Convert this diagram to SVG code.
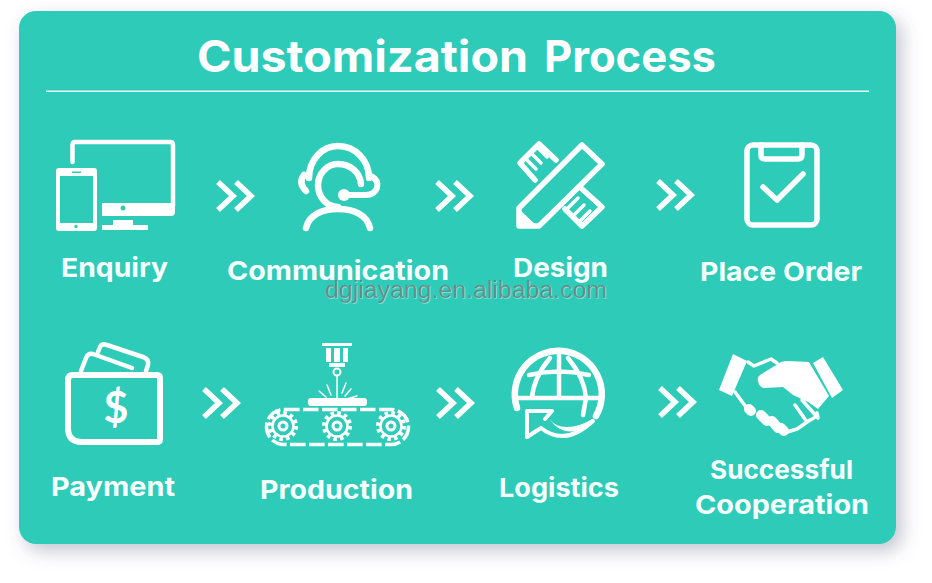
<svg xmlns="http://www.w3.org/2000/svg" width="932" height="583" viewBox="0 0 932 583">
<style>
.lb{font-family:Inter,"Liberation Sans",sans-serif;font-weight:700;font-size:26px;fill:#f7fffd}
.s{fill:none;stroke:#fff;stroke-width:5.500;stroke-linejoin:round;stroke-linecap:round}
.t{fill:none;stroke:#fff;stroke-width:3.500;stroke-linejoin:round;stroke-linecap:round}
.f{fill:#fff}
.ch{fill:none;stroke:#fff;stroke-width:5.500;stroke-linejoin:miter;stroke-linecap:butt}
.gear{fill:none;stroke:#fff;stroke-width:2.500}
.teeth{fill:none;stroke:#fff;stroke-width:4;stroke-dasharray:3.500 3.300}
</style>
<defs>
<filter id="sh" x="-5%" y="-5%" width="112%" height="115%"><feDropShadow dx="6" dy="7" stdDeviation="9" flood-color="#5a5a80" flood-opacity="0.35"/></filter>
<filter id="wm" x="-5%" y="-20%" width="110%" height="140%"><feDropShadow dx="0.7" dy="0.7" stdDeviation="0.2" flood-color="#e8fffa" flood-opacity="0.6"/></filter>
<path id="chev" d="M0 -14L15 0L0 14M18 -14L33 0L18 14"/>
<g id="gr"><circle r="13" class="teeth"/><circle r="10.500" class="gear"/><circle r="4" class="gear" style="stroke-width:3"/></g>
</defs>
<g id="panel">
<rect x="19" y="11" width="877" height="533" rx="17" fill="#2fcbb9" filter="url(#sh)"/>
<text y="72" font-family="Inter,'Liberation Sans',sans-serif" font-weight="700" font-size="44" fill="#fff"><tspan x="197" textLength="331" lengthAdjust="spacingAndGlyphs">Customization</tspan> <tspan x="544" textLength="172" lengthAdjust="spacingAndGlyphs">Process</tspan></text>
<rect x="46" y="90.500" width="823" height="1.500" fill="#e9fbf8"/>
</g>
<g id="connectors">
<use href="#chev" x="218" y="196" class="ch"/>
<use href="#chev" x="437" y="196" class="ch"/>
<use href="#chev" x="658" y="195" class="ch"/>
<use href="#chev" x="204" y="403" class="ch"/>
<use href="#chev" x="438" y="403" class="ch"/>
<use href="#chev" x="660" y="402" class="ch"/>
</g>
<g id="enquiry">
<path class="s" style="stroke-width:4.500" d="M72.500 162V145Q72.500 142 75.500 142H170Q173 142 173 145V206"/>
<path class="f" d="M102 203H175V212Q175 216 171 216H102ZM113 220H133V225H148V230H102V225H113Z"/>
<circle cx="123" cy="208" r="2.500" fill="#2fcbb9"/>
<path class="f" fill-rule="evenodd" d="M59 168H94Q97 168 97 171V228Q97 231 94 231H59Q56 231 56 228V171Q56 168 59 168ZM60 176V223H93V176Z"/>
<rect x="72" y="171.500" width="9" height="1.500" fill="#2fcbb9"/>
<circle cx="76" cy="226.500" r="1.700" fill="#2fcbb9"/>
<text class="lb" x="114.500" y="277" text-anchor="middle" textLength="107" lengthAdjust="spacingAndGlyphs">Enquiry</text>
</g>
<g id="communication">
<path class="s" style="stroke-width:6.500" d="M309 178C309 160 322 146 338 146C355 146 369 160 369 178"/>
<path class="s" style="stroke-width:6.500" d="M304 175Q298 183 306 191"/>
<path class="s" style="stroke-width:6" d="M371 176Q379 180 377 188Q374 195 366 195H345"/>
<circle cx="344" cy="195" r="6" class="f"/>
<path class="s" style="stroke-width:6.500" d="M361 184C360 172 350 164 338 164C327 164 318 174 318 185C318 197 327 207 338 207"/>
<path class="s" style="stroke-width:6.500" d="M306 228C309 215 322 209 338 209C354 209 367 215 370 228"/>
<text class="lb" x="338" y="280" text-anchor="middle" textLength="222" lengthAdjust="spacingAndGlyphs">Communication</text>
</g>
<g id="design">
<path class="s" d="M519 208L582 145L602 164L539 226L519 226Z"/>
<path class="f" d="M520 210L537 226H520Z"/>
<path class="s" d="M556 160L539 144L520 163L535 180"/>
<path class="t" d="M531 153L541 163M537 147L547 157M526 159L536 169"/>
<path class="s" d="M582 189L602 207L582 226L565 209"/>
<path class="t" d="M584 205L574 215M578 198L568 208M590 211L580 221"/>
<text class="lb" x="560.500" y="277" text-anchor="middle" textLength="95" lengthAdjust="spacingAndGlyphs">Design</text>
</g>
<g id="place-order">
<rect x="747" y="145" width="70" height="80" rx="6" class="s"/>
<path class="s" d="M761 145V155Q761 159 765 159H798Q802 159 802 155V145"/>
<path class="s" d="M763 187L777 200L803 174"/>
<text class="lb" x="781" y="281" text-anchor="middle" textLength="162" lengthAdjust="spacingAndGlyphs">Place Order</text>
</g>
<g id="payment">
<path class="s" style="stroke-width:6" d="M73 375H157Q160 375 160 378V439Q160 442 157 442H82Q68 442 68 428V380Q68 375 73 375Z"/>
<path class="s" style="stroke-width:4.500" d="M81 371L86 358Q88 353 93 354L132 368"/>
<path class="s" style="stroke-width:4.500" d="M98 352L100 347Q102 343 107 345L143 357Q149 359 148 365L146 371"/>
<text x="116" y="423" text-anchor="middle" font-family="Lato,'Liberation Sans',sans-serif" font-weight="700" font-size="43" fill="#fff">$</text>
<text class="lb" x="113" y="496" text-anchor="middle" textLength="124" lengthAdjust="spacingAndGlyphs">Payment</text>
</g>
<g id="production">
<rect x="322" y="343" width="30" height="3" class="f"/>
<path class="f" d="M326 348H331V362H326ZM334 348H340V362H334ZM343 348H348V362H343ZM329 363H345V367H329Z"/>
<circle cx="337" cy="372" r="3.500" fill="none" stroke="#fff" stroke-width="2"/>
<rect x="336.300" y="375" width="1.500" height="23" class="f"/>
<path class="t" style="stroke-width:1.500" d="M331 395L327 385M326 397L319 391M325 399L316 399M342 393L346 383M345 396L351 389M347 399L357 396"/>
<rect x="308" y="398" width="59" height="8" rx="3" class="f"/>
<rect x="266.500" y="409.500" width="142" height="35" rx="17.500" fill="none" stroke="#fff" stroke-width="3.500" stroke-dasharray="15.500 3.500"/>
<use href="#gr" x="283" y="426"/>
<use href="#gr" x="337" y="426"/>
<use href="#gr" x="391" y="426"/>
<text class="lb" x="336.500" y="499" text-anchor="middle" textLength="153" lengthAdjust="spacingAndGlyphs">Production</text>
</g>
<g id="logistics">
<path class="s" style="stroke-width:6.500" d="M517 408A43.500 43.500 0 1 1 596 416"/>
<path class="s" style="stroke-width:4.500" d="M559 350V398M550 358C540 370 533 384 532 398M568 358C578 370 585 384 586 398L583 415M529 375Q559 368 589 375M518 398H600"/>
<path class="s" style="stroke-width:4" d="M527 437V411H552L545 419"/>
<path class="s" style="stroke-width:4" d="M527 437L541 428Q565 447 593 421"/>
<path class="f" d="M549 418C556 430 575 430 594 418C580 436 560 436 549 418Z"/>
<text class="lb" x="559" y="497" text-anchor="middle" textLength="120" lengthAdjust="spacingAndGlyphs">Logistics</text>
</g>
<g id="cooperation">
<path class="f" d="M733 354L747 361L732 396L719 390ZM823 357L843 390L832 398L813 363Z"/>
<path class="f" d="M758 381Q757 377 760 375L781 362Q784 361 788 361L809 362L829 396L818 409L808 402L793 395L783 387L764 388Q759 387 758 381Z"/>
<path class="t" d="M748 362L754 366L771 359L777 363M735 392L746 407"/>
<path class="t" d="M795 405L807 422M802 400L818 418L817 413Q816 418 810 420L797 429L784 433"/>
<path fill="none" stroke="#fff" stroke-width="10" stroke-linecap="round" d="M749 409L751 411M761 415L767 421M772 421L778 428M781 428L784 431"/>
<text class="lb" x="781.500" y="479" text-anchor="middle" textLength="143" lengthAdjust="spacingAndGlyphs">Successful</text>
<text class="lb" x="782" y="514" text-anchor="middle" textLength="174" lengthAdjust="spacingAndGlyphs">Cooperation</text>
</g>
<text id="watermark" x="466" y="298" text-anchor="middle" font-family="'Liberation Sans',Arial,sans-serif" font-size="23" fill="#5f807d" fill-opacity="0.9" textLength="282" lengthAdjust="spacingAndGlyphs" filter="url(#wm)">dgjiayang.en.alibaba.com</text>
</svg>
